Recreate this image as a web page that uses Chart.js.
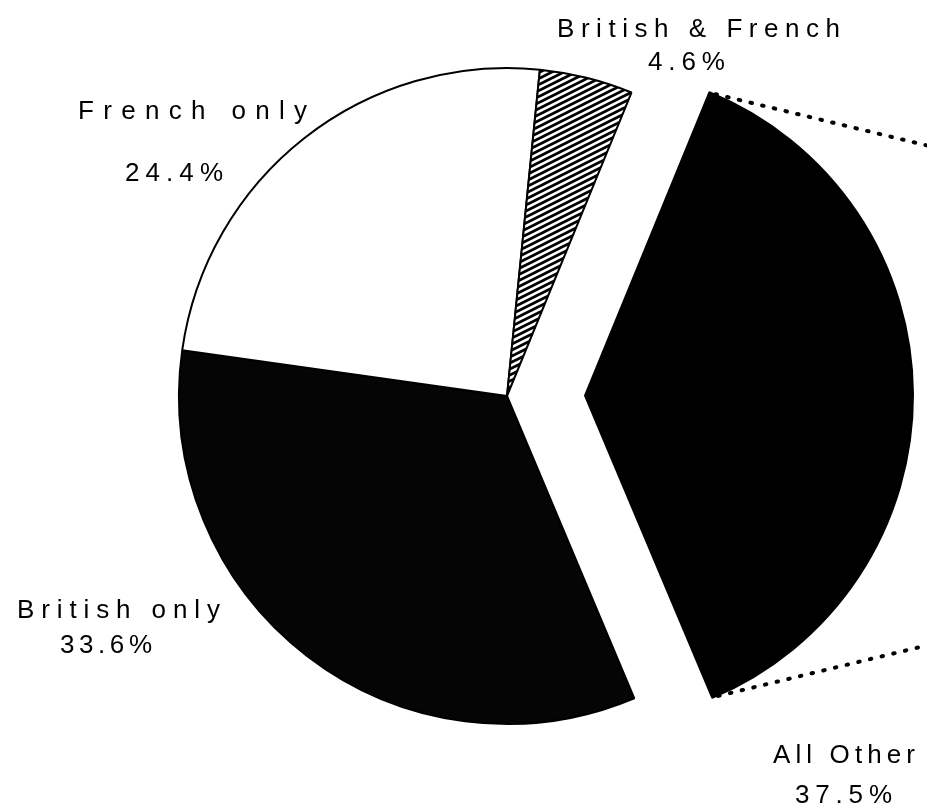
<!DOCTYPE html>
<html>
<head>
<meta charset="utf-8">
<script src="https://cdn.jsdelivr.net/npm/chart.js@4.4.0/dist/chart.umd.min.js"></script>
<style>
  html, body { margin: 0; padding: 0; background: #fff; }
  canvas { display: block; }
</style>
</head>
<body>
<canvas id="pie" width="927" height="812"></canvas>
<script>
// data
const categories = ['All Other', 'British only', 'French only', 'British & French'];
const shares = [37.5, 33.6, 24.4, 4.6];
const startAngleDeg = 22.3;   // first slice starts a little right of 12 o'clock
const explodedIndex = 0;      // "All Other" is pulled out

const EXPLODE = 78;
const RADIUS = 328;

// where each label sits, relative to the pie centre (name line, value line),
// plus the width the scanned lettering spreads over
const labelSpots = [
    { nx: 266, ny: 367, nw: 142, vx: 288, vy: 407, vw: 97 },
    { nx: -490, ny: 222, nw: 203, vx: -447, vy: 257, vw: 92 },
    { nx: -429, ny: -277, nw: 229, vx: -382, vy: -215, vw: 98 },
    { nx: 50, ny: -359, nw: 283, vx: 141, vy: -326, vw: 77 }
];

function hatchPattern() {
    const c = document.createElement('canvas');
    c.width = 12;
    c.height = 6;
    const g = c.getContext('2d');
    g.fillStyle = '#fff';
    g.fillRect(0, 0, 12, 6);
    g.strokeStyle = '#000';
    g.lineWidth = 2.8;
    for (let k = -2; k <= 2; k++) {
        g.beginPath();
        g.moveTo(-12, 12 + k * 6);
        g.lineTo(24, -6 + k * 6);
        g.stroke();
    }
    return g.createPattern(c, 'repeat');
}

function spacedText(c, txt, x, y, width) {
    c.letterSpacing = '0px';
    const plain = c.measureText(txt).width;
    const gap = Math.max((width - plain) / (txt.length - 1), 0);
    c.letterSpacing = gap.toFixed(2) + 'px';
    c.fillText(txt, x, y);
}

const ctx = document.getElementById('pie').getContext('2d');
const fills = ['#000', '#050505', '#fff', hatchPattern()];

// draw the arcs ourselves so the pulled-out slice keeps its radius
const explodePlugin = {
    id: 'explode',
    beforeDatasetDraw(chart, args) {
        const c = chart.ctx;
        args.meta.data.forEach((arc, i) => {
            c.save();
            if (i === explodedIndex) {
                const mid = (arc.startAngle + arc.endAngle) / 2;
                c.translate(Math.cos(mid) * EXPLODE, Math.sin(mid) * EXPLODE);
            }
            arc.draw(c, chart.chartArea);
            c.restore();
        });
        return false;
    }
};

const extrasPlugin = {
    id: 'extras',
    afterDraw(chart) {
        const c = chart.ctx;
        const meta = chart.getDatasetMeta(0);
        const arc = meta.data[explodedIndex];
        const mid = (arc.startAngle + arc.endAngle) / 2;
        const ox = arc.x + Math.cos(mid) * EXPLODE;
        const oy = arc.y + Math.sin(mid) * EXPLODE;
        const R = arc.outerRadius;

        // dotted leader lines running off to the right
        c.save();
        c.strokeStyle = '#000';
        c.lineWidth = 4;
        c.lineCap = 'round';
        c.setLineDash([1.5, 10.5]);
        [[arc.startAngle, 1], [arc.endAngle, -1]].forEach(([ang, dir]) => {
            const px = ox + Math.cos(ang) * R;
            const py = oy + Math.sin(ang) * R;
            c.beginPath();
            c.moveTo(px + 6, py + dir * 2);
            c.lineTo(chart.width, py + dir * (chart.width - px) * 0.245);
            c.stroke();
        });
        c.restore();

        // labels
        c.save();
        c.fillStyle = '#000';
        c.font = '26px "Liberation Sans", Arial, sans-serif';
        c.textAlign = 'left';
        c.textBaseline = 'alphabetic';
        categories.forEach((name, i) => {
            const s = labelSpots[i];
            spacedText(c, name, arc.x + s.nx, arc.y + s.ny, s.nw);
            spacedText(c, shares[i].toFixed(1) + '%', arc.x + s.vx, arc.y + s.vy, s.vw);
        });
        c.restore();
    }
};

const myChart = new Chart(ctx, {
    type: 'pie',
    data: {
        labels: categories,
        datasets: [{
            data: shares,
            backgroundColor: fills,
            borderColor: '#000',
            borderWidth: 2
        }]
    },
    options: {
        responsive: false,
        animation: false,
        events: [],
        rotation: startAngleDeg,
        radius: RADIUS,
        layout: {
            padding: { left: 87, right: 0, top: 0, bottom: 20 }
        },
        plugins: {
            legend: { display: false },
            tooltip: { enabled: false }
        }
    },
    plugins: [explodePlugin, extrasPlugin]
});
</script>
</body>
</html>
